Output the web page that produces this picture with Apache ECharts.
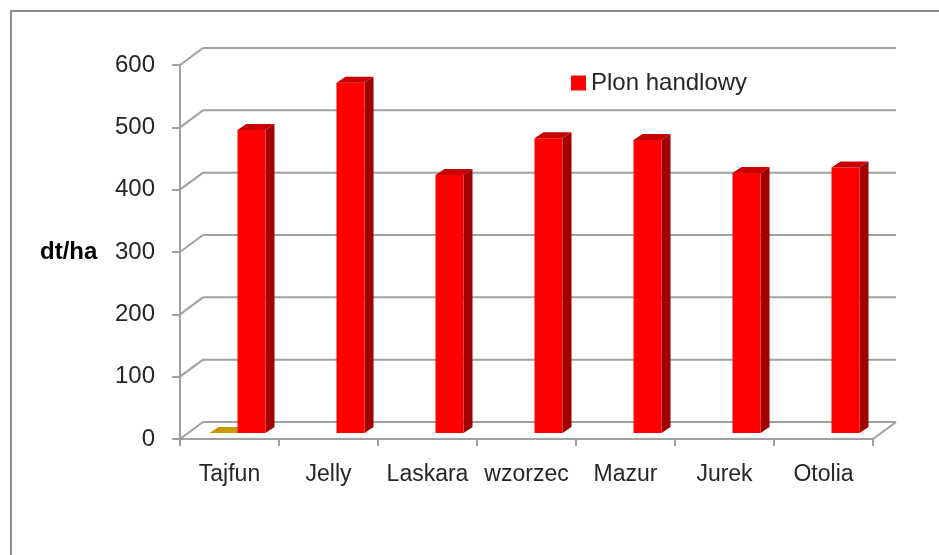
<!DOCTYPE html>
<html>
<head>
<meta charset="utf-8">
<script src="https://cdn.jsdelivr.net/npm/echarts@6/dist/echarts.min.js"></script>
<style>
  html, body { margin: 0; padding: 0; background: #fff; }
  #chart { width: 939px; height: 555px; }
</style>
</head>
<body>
<div id="chart"></div>
<script>
const categories = ['Tajfun', 'Jelly', 'Laskara', 'wzorzec', 'Mazur', 'Jurek', 'Otolia'];
const plonHandlowy = [486, 562, 414, 473, 470, 417, 426];
const seriaDruga = [0, null, null, null, null, null, null];
const yTicks = [0, 100, 200, 300, 400, 500, 600];

// perspective offsets (px)
const WALL_DX = 23, WALL_DY = -17;
const FLOOR_DX = 8, FLOOR_DY = -6;
const BAR_DX = 9, BAR_DY = -6;
const GRID_COLOR = '#A0A0A0';
const FONT = '"Liberation Sans", Arial, sans-serif';

function toPairs(arr) {
    const out = [];
    arr.forEach((v, i) => { if (v !== null) out.push([i, v]); });
    return out;
}

function barRenderer(offset, colors) {
    return function (params, api) {
        const idx = api.value(0);
        const v = api.value(1);
        const base = api.coord([idx, 0]);
        const top = api.coord([idx, v]);
        const band = api.size([1, 0])[0];
        const w = band * 0.283;
        const cx = base[0] + FLOOR_DX + offset * w;
        const x0 = cx - w / 2, x1 = cx + w / 2;
        const yb = base[1] + FLOOR_DY, yt = top[1] + FLOOR_DY;
        return {
            type: 'group',
            children: [
                {
                    type: 'polygon',
                    shape: { points: [[x1, yb], [x1 + BAR_DX, yb + BAR_DY], [x1 + BAR_DX, yt + BAR_DY], [x1, yt]] },
                    style: { fill: colors.side }
                },
                {
                    type: 'rect',
                    shape: { x: x0, y: yt, width: w, height: yb - yt },
                    style: { fill: colors.front }
                },
                {
                    type: 'polygon',
                    shape: { points: [[x0, yt], [x1, yt], [x1 + BAR_DX, yt + BAR_DY], [x0 + BAR_DX, yt + BAR_DY]] },
                    style: { fill: colors.top }
                }
            ]
        };
    };
}

const chart = echarts.init(document.getElementById('chart'));

chart.setOption({
    animation: false,
    backgroundColor: '#fff',
    textStyle: { fontFamily: FONT },
    graphic: [
        {
            type: 'rect',
            shape: { x: 11, y: 11, width: 1000, height: 1000 },
            style: { fill: 'none', stroke: '#8C8C8C', lineWidth: 2 }
        },
        {
            type: 'text',
            left: 40,
            top: 240,
            style: { text: 'dt/ha', font: 'bold 24px ' + FONT, fill: '#000' }
        }
    ],
    legend: {
        data: ['Plon handlowy'],
        left: 566,
        top: 66,
        icon: 'rect',
        itemWidth: 15,
        itemHeight: 15,
        textStyle: { fontSize: 24, color: '#262626', fontFamily: FONT }
    },
    grid: { left: 180, right: 66, top: 65, bottom: 116 },
    xAxis: {
        type: 'category',
        data: categories,
        boundaryGap: true,
        axisLine: { lineStyle: { color: GRID_COLOR, width: 2 } },
        axisTick: { show: true, interval: 0, length: 7, lineStyle: { color: GRID_COLOR, width: 2 } },
        axisLabel: { interval: 0, fontSize: 23, color: '#262626', margin: 24, fontFamily: FONT },
        splitLine: { show: false }
    },
    yAxis: {
        type: 'value',
        min: 0,
        max: 600,
        interval: 100,
        axisLine: { show: true, lineStyle: { color: GRID_COLOR, width: 2 } },
        axisTick: { show: true, length: 8, lineStyle: { color: GRID_COLOR, width: 2 } },
        axisLabel: { fontSize: 24, color: '#262626', margin: 25, fontFamily: FONT },
        splitLine: { show: false }
    },
    series: [
        {
            name: 'walls',
            type: 'custom',
            z: 1,
            silent: true,
            data: yTicks.map(t => [0, t]),
            renderItem: function (params, api) {
                const cs = params.coordSys;
                const y = api.coord([0, api.value(1)])[1];
                const style = { stroke: GRID_COLOR, lineWidth: 2 };
                const children = [
                    { type: 'line', shape: { x1: cs.x, y1: y, x2: cs.x + WALL_DX, y2: y + WALL_DY }, style },
                    { type: 'line', shape: { x1: cs.x + WALL_DX, y1: y + WALL_DY, x2: cs.x + cs.width + WALL_DX, y2: y + WALL_DY }, style }
                ];
                if (api.value(1) === 0) {
                    children.push({ type: 'line', shape: { x1: cs.x + cs.width, y1: y, x2: cs.x + cs.width + WALL_DX, y2: y + WALL_DY }, style });
                }
                return { type: 'group', children };
            }
        },
        {
            name: 'Seria 2',
            type: 'custom',
            z: 2,
            itemStyle: { color: '#C99A00' },
            data: toPairs(seriaDruga),
            renderItem: barRenderer(-0.5, { front: '#E0AC00', side: '#9C7700', top: '#C99A00' })
        },
        {
            name: 'Plon handlowy',
            type: 'custom',
            z: 3,
            itemStyle: { color: '#FF0000' },
            data: toPairs(plonHandlowy),
            renderItem: barRenderer(0.5, { front: '#FF0000', side: '#A00000', top: '#C80000' })
        }
    ]
});
</script>
</body>
</html>
